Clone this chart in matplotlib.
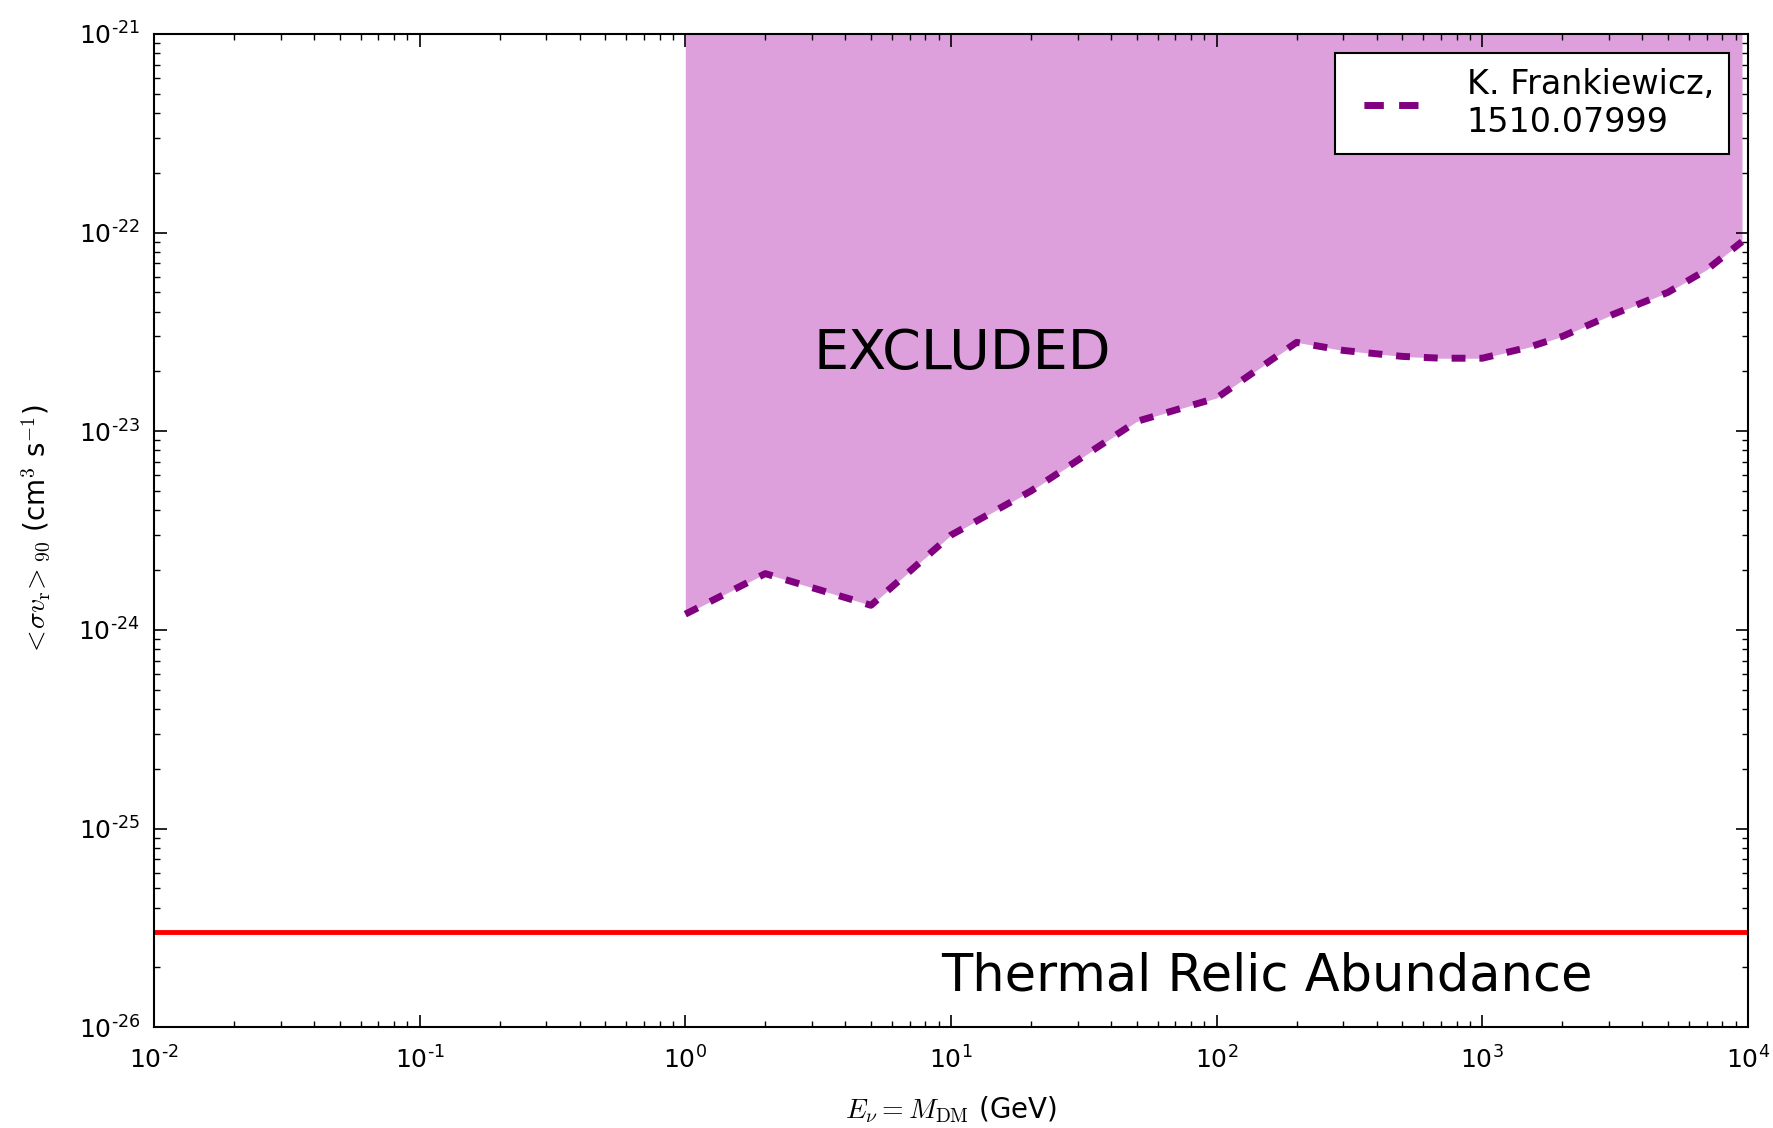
import matplotlib
matplotlib.use("Agg")
import matplotlib.pyplot as plt
from matplotlib.ticker import FuncFormatter, LogLocator
from matplotlib.legend_handler import HandlerLine2D
import numpy as np

plt.rcParams['mathtext.fontset'] = 'cm'
plt.rcParams['font.family'] = ['DejaVu Sans']
plt.rcParams['lines.scale_dashes'] = False

# Data
mass_gev = [1, 2, 5, 10, 20, 50, 100, 200, 300, 500, 700, 1000, 1500, 2000, 3000, 5000, 7000, 9500]
sigma_v = [1.2e-24, 1.92e-24, 1.33e-24, 3.0e-24, 5.0e-24, 1.12e-23, 1.47e-23, 2.8e-23,
           2.55e-23, 2.38e-23, 2.33e-23, 2.33e-23, 2.65e-23, 3.0e-23, 3.8e-23, 5.0e-23, 6.5e-23, 9.0e-23]
thermal_relic = 3.0e-26
y_top = 1e-21
xlim = (1e-2, 1e4)
ylim = (1e-26, 1e-21)
legend_label = "K. Frankiewicz,\n1510.07999"

fig = plt.figure(figsize=(17.74, 11.28), dpi=100)
ax = fig.add_axes([0.0868, 0.0893, 0.8985, 0.8807])

ax.fill_between(mass_gev, sigma_v, y_top, color='#DDA0DD', linewidth=0)
ax.plot(mass_gev, sigma_v, color='#800080', lw=5, dashes=(10, 10),
        dash_capstyle='butt', label=legend_label)
ax.axhline(thermal_relic, color='red', lw=3.5)

ax.set_xscale('log')
ax.set_yscale('log')
ax.set_xlim(*xlim)
ax.set_ylim(*ylim)

def fmt(v, pos):
    e = int(np.round(np.log10(v)))
    s = ('\u2010%d' % (-e)) if e < 0 else ('%d' % e)
    return r'$\mathdefault{10^{%s}}$' % s

ax.xaxis.set_major_locator(LogLocator(base=10, numticks=20))
ax.yaxis.set_major_locator(LogLocator(base=10, numticks=20))
ax.xaxis.set_minor_locator(LogLocator(base=10, subs=np.arange(2, 10), numticks=100))
ax.yaxis.set_minor_locator(LogLocator(base=10, subs=np.arange(2, 10), numticks=100))
ax.xaxis.set_major_formatter(FuncFormatter(fmt))
ax.yaxis.set_major_formatter(FuncFormatter(fmt))

ax.tick_params(which='both', direction='in', top=True, right=True, labelsize=18)
ax.tick_params(which='major', length=9, width=1.2)
ax.tick_params(axis='x', which='major', pad=14)
ax.tick_params(axis='y', which='major', pad=10)
ax.tick_params(which='minor', length=4.5, width=1)
for s in ax.spines.values():
    s.set_linewidth(1.5)

ax.set_xlabel(r'$E_\nu = M_{\rm DM}$ (GeV)', fontsize=20, labelpad=15)
ax.set_ylabel(r'$<\!\sigma v_{\rm r}\!>_{90}$ (cm$^3$ s$^{-1}$)', fontsize=20, labelpad=19)

ax.text(11, 2.45e-23, 'EXCLUDED', fontsize=40, ha='center', va='center')
ax.text(9.2, 1.8e-26, 'Thermal Relic Abundance', fontsize=36.7, ha='left', va='center')


def _upd(legline, orig):
    legline.update_from(orig)
    legline.set_linestyle((15, (14, 11)))


leg = ax.legend(loc='upper right', fontsize=24, frameon=True, fancybox=False,
                handlelength=2.04, borderpad=0.45, handletextpad=1.46,
                borderaxespad=0, bbox_to_anchor=(0.988, 0.981),
                handler_map={matplotlib.lines.Line2D: HandlerLine2D(update_func=_upd)})
leg.get_frame().set_edgecolor('black')
leg.get_frame().set_linewidth(1.5)
leg.get_frame().set_alpha(1)

fig.savefig('out.png', dpi=100)
